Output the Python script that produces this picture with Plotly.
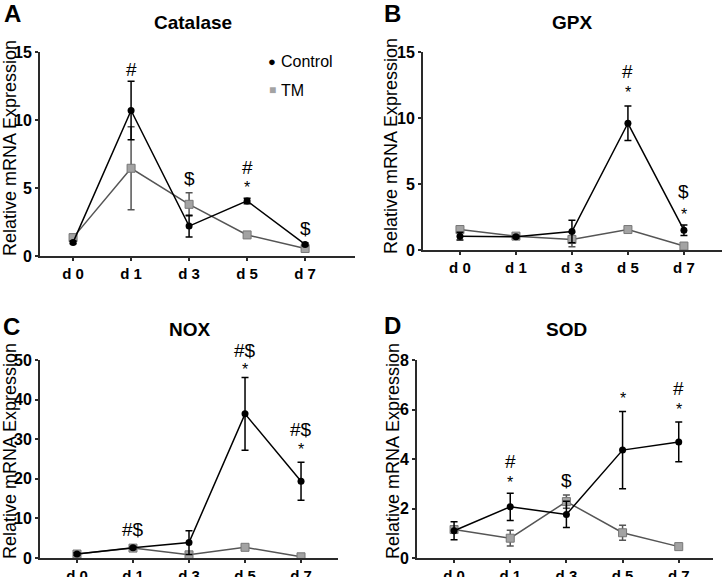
import plotly.graph_objects as go

days = ["d 0", "d 1", "d 3", "d 5", "d 7"]

# Catalase
cat_ctrl = [1.0, 10.7, 2.2, 4.05, 0.85]
cat_ctrl_err = [0.1, 2.15, 0.8, 0.2, 0.1]
cat_tm = [1.35, 6.45, 3.8, 1.55, 0.55]
cat_tm_err = [0.25, 3.05, 0.85, 0.1, 0.1]
cat_marks = [("d 1", 13.7, "#"), ("d 3", 5.7, "$"), ("d 5", 6.5, "#"), ("d 5", 5.35, "*"), ("d 7", 2.05, "$")]

# GPX
gpx_ctrl = [1.05, 1.0, 1.4, 9.6, 1.5]
gpx_ctrl_err = [0.3, 0.1, 0.85, 1.3, 0.4]
gpx_tm = [1.55, 1.05, 0.8, 1.55, 0.3]
gpx_tm_err = [0.25, 0.1, 0.55, 0.2, 0.05]
gpx_marks = [("d 5", 13.5, "#"), ("d 5", 12.25, "*"), ("d 7", 4.4, "$"), ("d 7", 3.0, "*")]

# NOX
nox_ctrl = [1.0, 2.6, 3.9, 36.4, 19.4]
nox_ctrl_err = [0.3, 0.3, 3.0, 9.2, 4.8]
nox_tm = [1.0, 2.5, 0.8, 2.7, 0.3]
nox_tm_err = [0.2, 0.3, 0.3, 0.3, 0.1]
nox_marks = [("d 1", 7.25, "#$"), ("d 5", 52.5, "#$"), ("d 5", 48.5, "*"), ("d 7", 32.5, "#$"), ("d 7", 28.3, "*")]

# SOD
sod_ctrl = [1.1, 2.07, 1.76, 4.36, 4.69]
sod_ctrl_err = [0.36, 0.55, 0.53, 1.56, 0.8]
sod_tm = [1.15, 0.8, 2.28, 1.02, 0.46]
sod_tm_err = [0.1, 0.32, 0.27, 0.3, 0.03]
sod_marks = [("d 1", 3.89, "#"), ("d 1", 3.22, "*"), ("d 3", 3.12, "$"), ("d 5", 6.59, "*"),
             ("d 7", 6.86, "#"), ("d 7", 6.18, "*")]

W, H = 723, 577
FONT = "Arial, Liberation Sans, sans-serif"
AXIS_COL = "#2a2a2a"
TM_LINE = "#555555"
TM_FILL = "#a3a3a3"
TM_EDGE = "#777777"

# panel boxes in pixels: left, right, top, bottom; plus label positions
panels = [
    dict(ctrl=cat_ctrl, ce=cat_ctrl_err, tm=cat_tm, te=cat_tm_err, marks=cat_marks,
         px=(40, 355, 52, 256), xr=[-0.57, 4.86], ymax=15, dt=5,
         letter=("A", 13, 13), title=("Catalase", 193, 22), ytitle=(10, 148)),
    dict(ctrl=gpx_ctrl, ce=gpx_ctrl_err, tm=gpx_tm, te=gpx_tm_err, marks=gpx_marks,
         px=(423, 722, 52, 250), xr=[-0.66, 4.68], ymax=15, dt=5,
         letter=("B", 392, 13), title=("GPX", 572, 22), ytitle=(391, 146)),
    dict(ctrl=nox_ctrl, ce=nox_ctrl_err, tm=nox_tm, te=nox_tm_err, marks=nox_marks,
         px=(40, 338, 360, 558), xr=[-0.66, 4.66], ymax=50, dt=10,
         letter=("C", 11, 326), title=("NOX", 190, 330), ytitle=(10, 451)),
    dict(ctrl=sod_ctrl, ce=sod_ctrl_err, tm=sod_tm, te=sod_tm_err, marks=sod_marks,
         px=(417, 713, 360, 558), xr=[-0.66, 4.61], ymax=8, dt=2,
         letter=("D", 392, 325), title=("SOD", 566, 330), ytitle=(393, 451)),
]

fig = go.Figure()
annotations = []


def paper(xp, yp):
    return xp / W, 1 - yp / H


for i, p in enumerate(panels):
    n = "" if i == 0 else str(i + 1)
    xa, ya = "x" + n, "y" + n
    left, right, top, bottom = p["px"]

    fig.add_trace(go.Scatter(
        x=days, y=p["tm"], xaxis=xa, yaxis=ya, mode="lines+markers", showlegend=False,
        line=dict(color=TM_LINE, width=1.5),
        marker=dict(symbol="square", size=8, color=TM_FILL, line=dict(color=TM_EDGE, width=1)),
        error_y=dict(type="data", array=p["te"], color=TM_LINE, thickness=1.5, width=3.5)))
    fig.add_trace(go.Scatter(
        x=days, y=p["ctrl"], xaxis=xa, yaxis=ya, mode="lines+markers", showlegend=False,
        line=dict(color="black", width=1.5),
        marker=dict(symbol="circle", size=7, color="black"),
        error_y=dict(type="data", array=p["ce"], color="black", thickness=1.5, width=3.5)))

    axis_common = dict(showline=True, linecolor=AXIS_COL, linewidth=2, ticks="outside",
                       ticklen=3, tickwidth=1.5, tickcolor=AXIS_COL, showgrid=False,
                       zeroline=False, automargin=False)
    fig.layout["xaxis" + n] = dict(
        axis_common, domain=[left / W, right / W], anchor=ya, type="category",
        categoryorder="array", categoryarray=days, range=p["xr"],
        tickfont=dict(family=FONT, size=15, color="black", weight="bold"))
    fig.layout["yaxis" + n] = dict(
        axis_common, domain=[1 - bottom / H, 1 - top / H], anchor=xa,
        range=[0, p["ymax"]], dtick=p["dt"], tick0=0,
        tickfont=dict(family=FONT, size=16, color="black", weight="bold"))

    t, lx, ly = p["letter"]
    x0, y0 = paper(lx, ly)
    annotations.append(dict(text="<b>" + t + "</b>", xref="paper", yref="paper", x=x0, y=y0,
                            xanchor="center", yanchor="middle", showarrow=False,
                            font=dict(family=FONT, size=24, color="black")))
    t, lx, ly = p["title"]
    x0, y0 = paper(lx, ly)
    annotations.append(dict(text="<b>" + t + "</b>", xref="paper", yref="paper", x=x0, y=y0,
                            xanchor="center", yanchor="middle", showarrow=False,
                            font=dict(family=FONT, size=19, color="black")))
    x0, y0 = paper(*p["ytitle"])
    annotations.append(dict(text="Relative mRNA Expression", xref="paper", yref="paper",
                            x=x0, y=y0, xanchor="center", yanchor="middle", textangle=-90,
                            showarrow=False, font=dict(family=FONT, size=18, color="black")))
    for d, yv, t in p["marks"]:
        star = t == "*"
        annotations.append(dict(text=t, x=d, y=yv / p["ymax"], xref=xa, yref=ya + " domain",
                                showarrow=False, xanchor="center", yanchor="middle",
                                yshift=-4 if star else 0,
                                font=dict(family=FONT, size=16 if star else 19, color="black")))

# legend drawn as text in panel A
for label, sym, col, size, yp in [("Control", "●", "black", 13, 62), ("TM", "■", TM_FILL, 12, 90)]:
    x0, y0 = paper(272, yp)
    annotations.append(dict(text=sym, xref="paper", yref="paper", x=x0, y=y0, xanchor="center",
                            yanchor="middle", showarrow=False, font=dict(family=FONT, size=size, color=col)))
    x0, y0 = paper(279, yp)
    annotations.append(dict(text=label, xref="paper", yref="paper", x=x0, y=y0, xanchor="left",
                            yanchor="middle", showarrow=False, font=dict(family=FONT, size=16, color="black")))

fig.update_layout(
    width=W, height=H, margin=dict(l=0, r=0, t=0, b=0),
    plot_bgcolor="white", paper_bgcolor="white",
    font=dict(family=FONT, color="black"),
    annotations=annotations, showlegend=False,
)

fig.write_html("out.html", config={"displayModeBar": False},
               post_script="document.body.style.margin = '0';")
